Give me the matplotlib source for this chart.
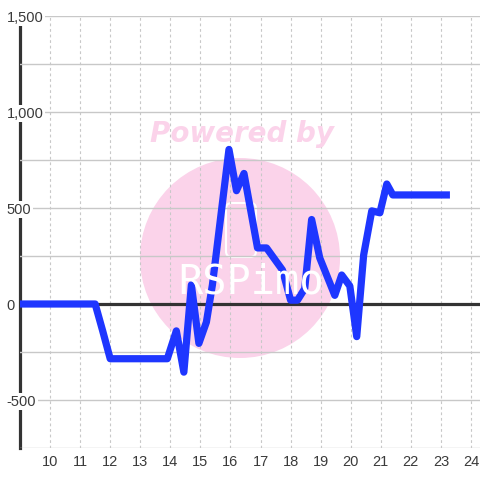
import matplotlib
matplotlib.use("Agg")
import matplotlib.pyplot as plt
from matplotlib.patches import Circle, FancyBboxPatch

# values
hours = [9.0, 11.5, 11.75, 12.0, 13.9, 14.2, 14.45, 14.7, 14.95, 15.2, 15.4,
         15.95, 16.2, 16.45, 16.9, 17.2, 17.73, 18.0, 18.23, 18.47, 18.7,
         18.97, 19.47, 19.7, 19.97, 20.2, 20.43, 20.7, 20.97, 21.2, 21.4, 23.3]
values = [0, 0, -140, -285, -285, -140, -355, 100, -205, -94, 100,
          805, 590, 680, 292, 292, 177, 20, 20, 80, 440,
          240, 45, 151, 94, -170, 255, 485, 475, 625, 568, 568]

x_ticks = list(range(10, 25))
y_ticks = list(range(-750, 1501, 250))
y_labels = ["{:,}".format(v) if v % 500 == 0 else "" for v in y_ticks]

plt.rcParams["font.family"] = ["Liberation Sans", "DejaVu Sans"]
text_col = "#3a3a3a"

fig = plt.figure(figsize=(4.8, 4.8), dpi=100)
ax = fig.add_axes([20 / 480, 32 / 480, 460 / 480, 432 / 480])

# watermark
pink = "#fbd3ea"
ax.add_patch(Circle((240 / 480, 1 - 258 / 480), 100 / 480, transform=fig.transFigure,
                    color=pink, zorder=0.5, lw=0))
ax.add_patch(FancyBboxPatch((226 / 480, 1 - 257 / 480), 30 / 480, 54 / 480,
                            boxstyle="round,pad=0,rounding_size=0.012",
                            transform=fig.transFigure, fill=False, ec="white",
                            lw=1.5, zorder=0.6))
fig.text(242 / 480, 1 - 134 / 480, "Powered by", color=pink, fontsize=20,
         fontweight="bold", fontstyle="italic", family="DejaVu Sans",
         ha="center", va="center", zorder=0.6)
fig.text(251 / 480, 1 - 283 / 480, "RSPimo", color="white", fontsize=29,
         family="DejaVu Sans Mono", ha="center", va="center", zorder=0.6)

# grid
ax.set_xticks(x_ticks)
ax.set_yticks(y_ticks)
ax.set_yticklabels(y_labels)
ax.grid(axis="y", color="#c8c8c8", lw=1.0, ls="-")
ax.grid(axis="x", color="#c8c8c8", lw=0.8, ls=(0, (2.5, 2.5)))
ax.yaxis.set_zorder(3)

ax.axhline(0, color="#333333", lw=2.3, zorder=4)
ax.plot(hours, values, color="#1e36ff", lw=5.2, zorder=5,
        solid_joinstyle="round", solid_capstyle="butt")

ax.set_xlim(9.0, 24.3)
ax.set_ylim(-750, 1500)

for s in ["top", "right", "bottom"]:
    ax.spines[s].set_visible(False)
ax.spines["left"].set_color("#333333")
ax.spines["left"].set_linewidth(2.3)

ax.tick_params(axis="both", length=0, labelsize=10.5, labelcolor=text_col)
ax.tick_params(axis="x", pad=5)
ax.tick_params(axis="y", pad=9.5)
for lbl in ax.get_yticklabels():
    lbl.set_horizontalalignment("left")
    lbl.set_bbox(dict(facecolor="white", edgecolor="none", pad=1.0))

fig.savefig("out.png", dpi=100)
